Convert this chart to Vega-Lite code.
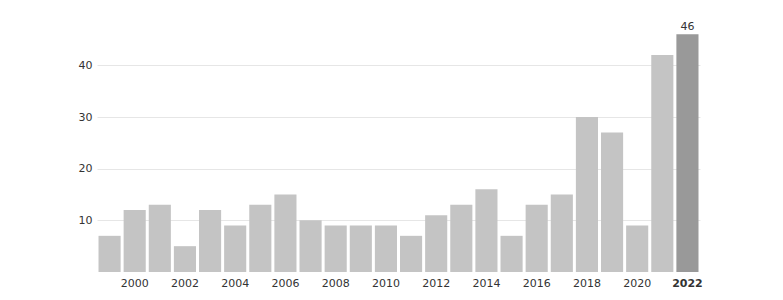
{
  "$schema": "https://vega.github.io/schema/vega-lite/v6.json",
  "autosize": {"type": "none"},
  "padding": {"left": 97, "top": 24, "right": 83, "bottom": 28},
  "width": 603,
  "height": 248,
  "background": "white",
  "config": {"view": {"stroke": null}, "font": "DejaVu Sans"},
  "data": {"values": [
    {"year": 1999, "count": 7}, {"year": 2000, "count": 12}, {"year": 2001, "count": 13},
    {"year": 2002, "count": 5}, {"year": 2003, "count": 12}, {"year": 2004, "count": 9},
    {"year": 2005, "count": 13}, {"year": 2006, "count": 15}, {"year": 2007, "count": 10},
    {"year": 2008, "count": 9}, {"year": 2009, "count": 9}, {"year": 2010, "count": 9},
    {"year": 2011, "count": 7}, {"year": 2012, "count": 11}, {"year": 2013, "count": 13},
    {"year": 2014, "count": 16}, {"year": 2015, "count": 7}, {"year": 2016, "count": 13},
    {"year": 2017, "count": 15}, {"year": 2018, "count": 30}, {"year": 2019, "count": 27},
    {"year": 2020, "count": 9}, {"year": 2021, "count": 42}, {"year": 2022, "count": 46}
  ]},
  "encoding": {
    "x": {
      "field": "year", "type": "ordinal",
      "scale": {"paddingInner": 0.12, "paddingOuter": 0.06},
      "axis": {
        "title": null, "labelAngle": 0, "ticks": false, "domain": false,
        "values": [2000, 2002, 2004, 2006, 2008, 2010, 2012, 2014, 2016, 2018, 2020, 2022],
        "labelFontSize": 11, "labelColor": "#333", "labelPadding": 5,
        "labelFontWeight": {"condition": {"test": "datum.value == 2022", "value": "bold"}, "value": "normal"}
      }
    },
    "y": {
      "field": "count", "type": "quantitative",
      "scale": {"domain": [0, 48], "nice": false},
      "axis": {
        "title": null, "values": [10, 20, 30, 40], "ticks": false, "domain": false,
        "gridColor": "#e6e6e6", "labelFontSize": 11, "labelColor": "#333", "labelPadding": 5
      }
    }
  },
  "layer": [
    {
      "mark": {"type": "bar"},
      "encoding": {
        "color": {"condition": {"test": "datum.year == 2022", "value": "#999999"}, "value": "#c4c4c4"}
      }
    },
    {
      "transform": [{"filter": "datum.year == 2022"}],
      "mark": {"type": "text", "dy": -7, "fontSize": 11, "color": "#333"},
      "encoding": {"text": {"field": "count", "type": "quantitative"}}
    }
  ]
}
